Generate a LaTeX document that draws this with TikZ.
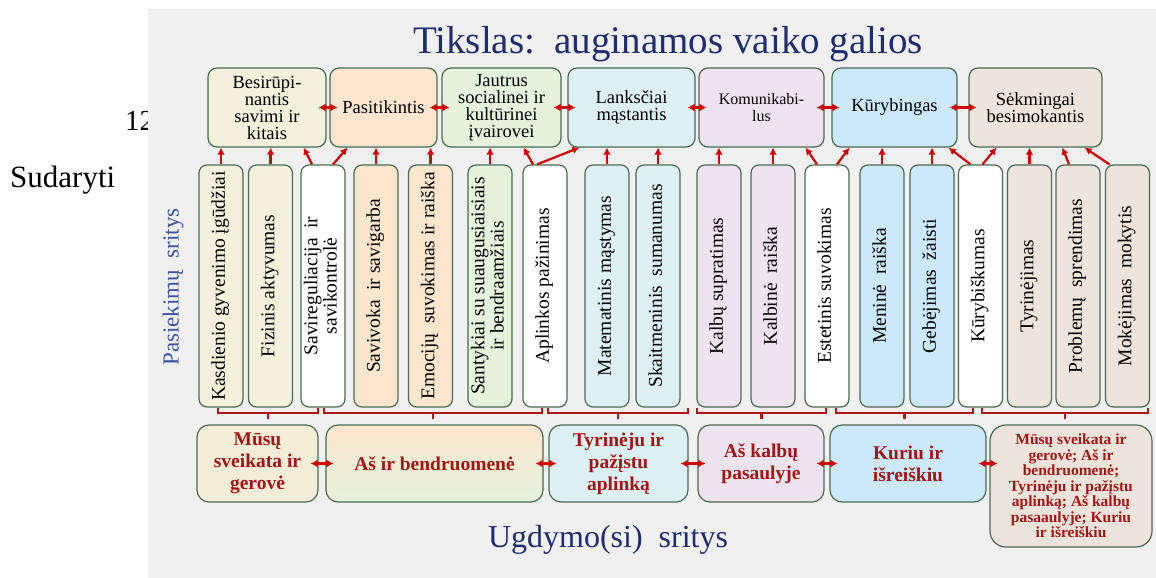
\documentclass[tikz,border=0pt]{standalone}
\usepackage{fontspec}
\setmainfont{Liberation Serif}
\usepackage{graphicx}
\usepackage{tikz}
\usetikzlibrary{positioning,arrows.meta}
\usepackage{xcolor}

\definecolor{panel}{HTML}{F0F0F0}
\definecolor{boxline}{HTML}{4A6B52}
\definecolor{cream}{HTML}{F3F0DC}
\definecolor{peach}{HTML}{FDE6CE}
\definecolor{mint}{HTML}{E5F2DC}
\definecolor{aqua}{HTML}{DDF1F4}
\definecolor{lilac}{HTML}{EFE3EF}
\definecolor{sky}{HTML}{CBE9FA}
\definecolor{tan}{HTML}{EEE4DB}
\definecolor{arrowred}{HTML}{D00000}
\definecolor{bracered}{HTML}{B01818}
\definecolor{areatext}{HTML}{A31515}
\definecolor{navy}{HTML}{1F2C6E}
\definecolor{sideblue}{HTML}{3C52A2}

\newcommand{\uptext}[1]{\rotatebox{90}{\begin{tabular}{@{}c@{}}#1\end{tabular}}}

\begin{document}
\begin{tikzpicture}[x=1pt,y=-1pt]
        %styles
        \tikzstyle{goalbox}=[rectangle, rounded corners=9pt, draw=boxline, line width=1.2pt, minimum height=79pt, inner sep=1pt, align=center, font=\fontsize{18.5}{17}\selectfont]
        \tikzstyle{skillbox}=[rectangle, rounded corners=8pt, draw=boxline, line width=1.2pt, minimum width=44pt, minimum height=242pt, inner sep=0pt, font=\fontsize{19.5}{19}\selectfont]
        \tikzstyle{areabox}=[rectangle, rounded corners=12pt, draw=boxline, line width=1.2pt, minimum height=77pt, inner sep=1pt, align=center, text=areatext, font=\bfseries\fontsize{19.5}{22}\selectfont]
        \tikzstyle{feed}=[-{Latex[length=7pt,width=7.5pt]},line width=2.2pt,draw=arrowred]
        \tikzstyle{pairlink}=[{Latex[length=7pt,width=8pt]}-{Latex[length=7pt,width=8pt]},line width=2.2pt,draw=arrowred,shorten <=-8pt,shorten >=-8pt]
        \tikzstyle{brace}=[draw=bracered,line width=2.4pt]

        %page
        \useasboundingbox (0,0) rectangle (1156,578);
        \fill[white] (0,0) rectangle (1156,578);
        \node[anchor=base west, inner sep=0pt, font=\fontsize{29}{29}\selectfont] (pgno) at (125,130) {12};
        \node[anchor=base west, inner sep=0pt, font=\fontsize{31}{31}\selectfont] (made) at (10,187) {Sudaryti};
        \fill[panel] (148,9) rectangle (1156,578);

        %titles
        \node[anchor=base, text=navy, font=\fontsize{39}{39}\selectfont] (title) at (668,53) {Tikslas:\ \ auginamos vaiko galios};
        \node[anchor=base, text=navy, font=\fontsize{32}{32}\selectfont] (bottom) at (608,547) {Ugdymo(si)\ \ sritys};
        \node[rotate=90, text=sideblue, font=\fontsize{23}{23}\selectfont] (side) at (173,287) {Pasiekimų\ \ sritys};

        %goals
        \node[goalbox, fill=cream, minimum width=118pt] (T1) at (267,107.5) {Besirūpi-\\nantis\\savimi ir\\kitais};
        \node[goalbox, fill=peach, minimum width=107pt] (T2) at (383.5,107.5) {Pasitikintis};
        \node[goalbox, fill=mint, minimum width=119pt] (T3) at (501.5,107.5) {Jautrus\\socialinei ir\\kultūrinei\\įvairovei};
        \node[goalbox, fill=aqua, minimum width=127pt] (T4) at (631.5,107.5) {Lanksčiai\\mąstantis};
        \node[goalbox, fill=lilac, minimum width=125pt, font=\fontsize{16}{17}\selectfont] (T5) at (761.5,107.5) {Komunikabi-\\lus};
        \node[goalbox, fill=sky, minimum width=125pt] (T6) at (894.5,107.5) {Kūrybingas};
        \node[goalbox, fill=tan, minimum width=133pt] (T7) at (1035.5,107.5) {Sėkmingai\\besimokantis};

        %skills
        \node[skillbox, fill=cream] (v1) at (221,286) {\uptext{Kasdienio gyvenimo įgūdžiai}};
        \node[skillbox, fill=cream] (v2) at (270.5,286) {\uptext{Fizinis aktyvumas}};
        \node[skillbox, fill=white] (v3) at (323,286) {\uptext{Savireguliacija\ \ ir\\savikontrolė}};
        \node[skillbox, fill=peach] (v4) at (376,286) {\uptext{Savivoka\ \ ir savigarba}};
        \node[skillbox, fill=peach] (v5) at (430.5,286) {\uptext{Emocijų\ \ suvokimas ir raiška}};
        \node[skillbox, fill=mint] (v6) at (490,286) {\uptext{Santykiai su suaugusiaisiais\\ir bendraamžiais}};
        \node[skillbox, fill=white] (v7) at (545,286) {\uptext{Aplinkos pažinimas}};
        \node[skillbox, fill=aqua] (v8) at (607,286) {\uptext{Matematinis mąstymas}};
        \node[skillbox, fill=aqua] (v9) at (658,286) {\uptext{Skaitmeninis\ \ sumanumas}};
        \node[skillbox, fill=lilac] (v10) at (719,286) {\uptext{Kalbų supratimas}};
        \node[skillbox, fill=lilac] (v11) at (773,286) {\uptext{Kalbinė\ \ raiška}};
        \node[skillbox, fill=white] (v12) at (827,286) {\uptext{Estetinis suvokimas}};
        \node[skillbox, fill=sky] (v13) at (882,286) {\uptext{Meninė\ \ raiška}};
        \node[skillbox, fill=sky] (v14) at (932,286) {\uptext{Gebėjimas\ \ žaisti}};
        \node[skillbox, fill=white] (v15) at (980.5,286) {\uptext{Kūrybiškumas}};
        \node[skillbox, fill=tan] (v16) at (1029.5,286) {\uptext{Tyrinėjimas}};
        \node[skillbox, fill=tan] (v17) at (1078,286) {\uptext{Problemų\ \ sprendimas}};
        \node[skillbox, fill=tan] (v18) at (1127.5,286) {\uptext{Mokėjimas\ \ mokytis}};

        %areas
        \node[areabox, fill=cream!70!peach, minimum width=121pt] (D1) at (257.5,463.5) {Mūsų\\sveikata ir\\gerovė};
        \node[areabox, top color=peach, bottom color=mint, minimum width=217pt] (D2) at (434.5,463.5) {Aš ir bendruomenė};
        \node[areabox, fill=aqua, minimum width=139pt] (D3) at (618.5,463.5) {Tyrinėju ir\\pažįstu\\aplinką};
        \node[areabox, fill=lilac, minimum width=126pt] (D4) at (761,463.5) {Aš kalbų\\pasaulyje};
        \node[areabox, fill=sky, minimum width=156pt] (D5) at (908,463.5) {Kuriu ir\\išreiškiu};
        \node[areabox, fill=tan, rounded corners=16pt, minimum width=162pt, minimum height=122pt, font=\bfseries\fontsize{15.5}{15.5}\selectfont] (D6) at (1071,486) {Mūsų sveikata ir\\gerovė; Aš ir\\bendruomenė;\\Tyrinėju ir pažįstu\\aplinką; Aš kalbų\\pasaaulyje; Kuriu\\ir išreiškiu};

        %braces
        \draw[brace] (218,408) -- (218,413) -- (318,413) -- (318,408) (268,413) -- (268,419);
        \draw[brace] (324,408) -- (324,413) -- (542,413) -- (542,408) (433,413) -- (433,419);
        \draw[brace] (548,408) -- (548,413) -- (688,413) -- (688,408) (618,413) -- (618,419);
        \draw[brace] (697,408) -- (697,413) -- (826,413) -- (826,408) (761.5,413) -- (761.5,419);
        \draw[brace] (836,408) -- (836,413) -- (973,413) -- (973,408) (904.5,413) -- (904.5,419);
        \draw[brace] (982,408) -- (982,413) -- (1148,413) -- (1148,408) (1065,413) -- (1065,419);

        %arrows
        \draw[pairlink] (T1)--(T2);
        \draw[pairlink] (T2)--(T3);
        \draw[pairlink] (T3)--(T4);
        \draw[pairlink] (T4)--(T5);
        \draw[pairlink] (T5)--(T6);
        \draw[pairlink] (T6)--(T7);

        \draw[feed] (v1)--(v1 |- T1.south);
        \draw[feed] (v2)--(v2 |- T1.south);
        \draw[feed] ([xshift=-11pt]v3.north)--([xshift=-23pt]T1.south east);
        \draw[feed] ([xshift=10pt]v3.north)--([xshift=18pt]T2.south west);
        \draw[feed] (v4)--(v4 |- T2.south);
        \draw[feed] (v5)--(v5 |- T2.south);
        \draw[feed] (v6)--(v6 |- T3.south);
        \draw[feed] ([xshift=-12pt]v7.north)--([xshift=-38pt]T3.south east);
        \draw[feed] ([xshift=-8pt]v7.north)--([xshift=12pt]T4.south west);
        \draw[feed] (v8)--(v8 |- T4.south);
        \draw[feed] (v9)--(v9 |- T4.south);
        \draw[feed] (v10)--(v10 |- T5.south);
        \draw[feed] (v11)--(v11 |- T5.south);
        \draw[feed] ([xshift=-10pt]v12.north)--([xshift=-19pt]T5.south east);
        \draw[feed] ([xshift=10pt]v12.north)--([xshift=18pt]T6.south west);
        \draw[feed] (v13)--(v13 |- T6.south);
        \draw[feed] (v14)--(v14 |- T6.south);
        \draw[feed] ([xshift=-10pt]v15.north)--([xshift=-9pt]T6.south east);
        \draw[feed] ([xshift=2pt]v15.north)--([xshift=28pt]T7.south west);
        \draw[feed] (v16)--(v16 |- T7.south);
        \draw[feed] ([xshift=-9pt]v17.north)--([xshift=94pt]T7.south west);
        \draw[feed] ([xshift=-18pt]v18.north)--([xshift=-18pt]T7.south east);

        \draw[pairlink] (D1)--(D2);
        \draw[pairlink] (D2)--(D3);
        \draw[pairlink] (D3)--(D4);
        \draw[pairlink] (D4)--(D5);
        \draw[pairlink] (D5.east)--(D5.east -| D6.west);
\end{tikzpicture}
\end{document}
